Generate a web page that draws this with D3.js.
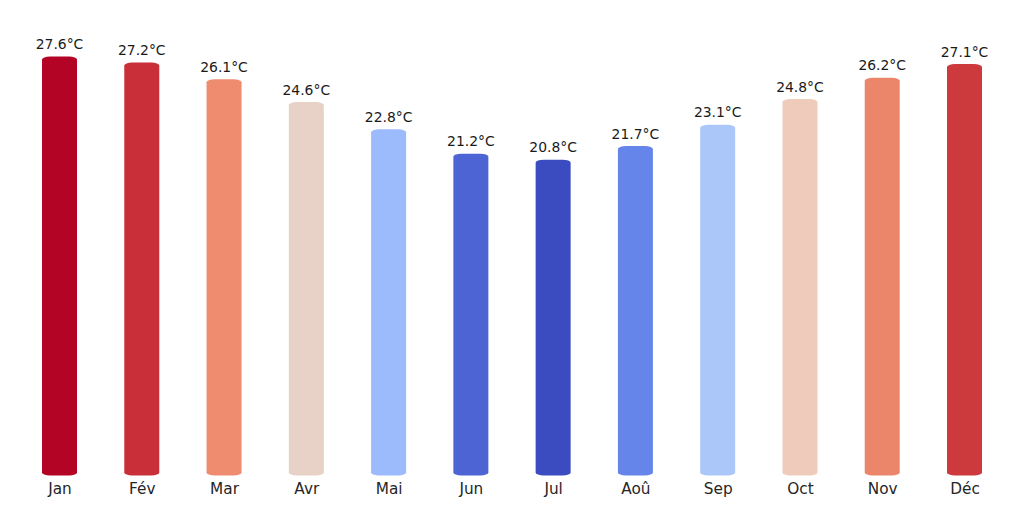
<!DOCTYPE html>
<html>
<head>
<meta charset="utf-8">
<script src="https://cdn.jsdelivr.net/npm/d3@7"></script>
<style>
  html, body { margin: 0; padding: 0; background: #fff; }
  svg { display: block; font-family: "DejaVu Sans", sans-serif; }
</style>
</head>
<body>
<div id="chart"></div>
<script>
// monthly mean temperatures
var months = ["Jan", "Fév", "Mar", "Avr", "Mai", "Jun", "Jul", "Aoû", "Sep", "Oct", "Nov", "Déc"];
var temps = [27.6, 27.2, 26.1, 24.6, 22.8, 21.2, 20.8, 21.7, 23.1, 24.8, 26.2, 27.1];

// coolwarm colormap anchors
var coolwarm = ["#3b4cc0", "#6282ea", "#8db0fe", "#b8d0f9", "#dddddd", "#f5c4ad", "#f49a7b", "#de604d", "#b40426"];

var width = 1024,
    height = 507;

var svg = d3.select("#chart")
    .append("svg")
    .attr("width", width)
    .attr("height", height);

var x = d3.scalePoint()
    .domain(months)
    .range([59.5, 964.5]);

var y = d3.scaleLinear()
    .domain([0, d3.max(temps)])
    .range([475.5, 56.5]);

var barWidth = 35;

var norm = d3.scaleLinear()
    .domain(d3.extent(temps))
    .range([0, 1]);

var cmap = d3.scaleLinear()
    .domain(coolwarm.map(function(d, i) { return i / (coolwarm.length - 1); }))
    .range(coolwarm)
    .interpolate(d3.interpolateRgb);

var g = svg.append("g");

g.selectAll(".bar")
    .data(temps)
    .enter().append("rect")
        .attr("class", "bar")
        .attr("x", function(d, i) { return x(months[i]) - barWidth / 2; })
        .attr("y", function(d) { return y(d); })
        .attr("width", barWidth)
        .attr("height", function(d) { return y(0) - y(d); })
        .attr("rx", 8)
        .attr("ry", 3)
        .attr("fill", function(d) { return cmap(norm(d)); });

// value labels
g.selectAll(".val")
    .data(temps)
    .enter().append("text")
        .attr("class", "val")
        .attr("x", function(d, i) { return x(months[i]); })
        .attr("y", function(d) { return y(d) - 7.5; })
        .attr("text-anchor", "middle")
        .attr("font-size", 13.9)
        .attr("fill", "#1a1a1a")
        .text(function(d) { return d.toFixed(1) + "°C"; });

// x axis without line/ticks
var xAxis = g.append("g")
    .attr("transform", "translate(0," + y(0) + ")")
    .call(d3.axisBottom(x).tickSize(0).tickPadding(0));

xAxis.select(".domain").remove();
xAxis.selectAll("text")
    .attr("font-family", "DejaVu Sans, sans-serif")
    .attr("font-size", 15.3)
    .attr("fill", "#262626")
    .attr("dy", null)
    .attr("y", 18.5);
</script>
</body>
</html>
